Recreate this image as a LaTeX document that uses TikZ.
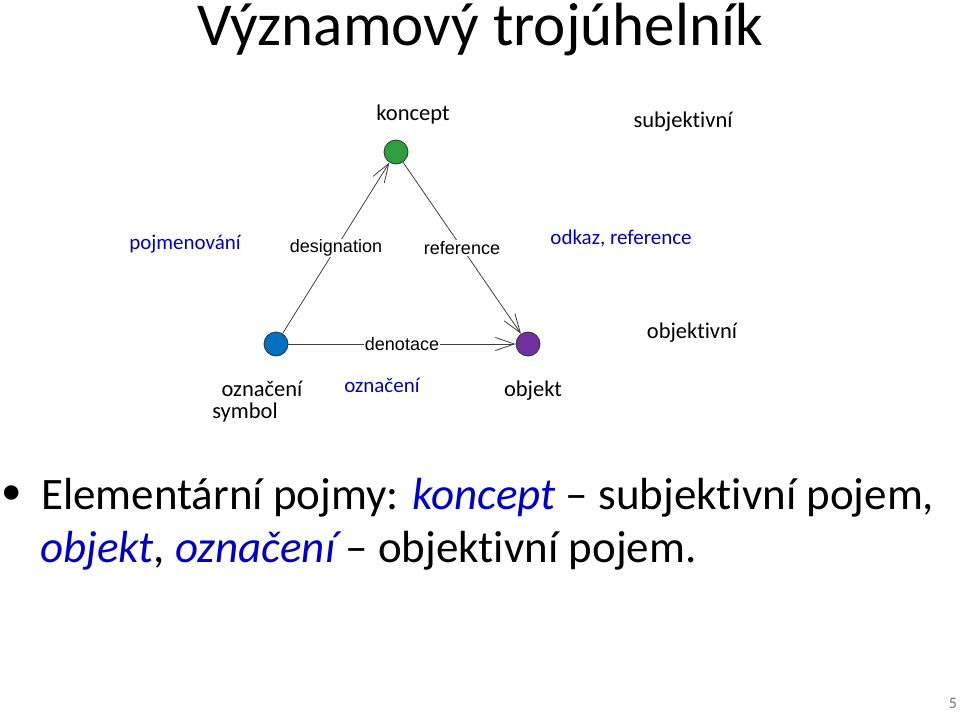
\documentclass[tikz,border=0pt]{standalone}
\usepackage{fontspec}
\setmainfont{Carlito}[Ligatures=NoCommon]
\newfontfamily\arialfont{Liberation Sans}
\usetikzlibrary{arrows.meta}
\definecolor{cgreen}{RGB}{46,158,62}
\definecolor{cblue}{RGB}{0,112,192}
\definecolor{cpurple}{RGB}{112,48,160}
\definecolor{tblue}{RGB}{0,0,204}
\definecolor{lgray}{RGB}{64,64,64}
\tikzset{
  dot/.style={circle,draw=black!80,line width=0.8pt,minimum size=24pt,inner sep=0pt},
  lbl/.style={inner sep=0pt,font=\fontsize{22.5}{27}\selectfont},
  bl/.style={inner sep=0pt,text=tblue,font=\fontsize{21}{25}\selectfont},
  al/.style={inner sep=1pt,fill=white,font=\arialfont\fontsize{18}{21}\selectfont},
  conn/.style={draw=lgray,line width=0.8pt,-{Straight Barb[length=19pt,width=13pt,line width=0.8pt]}},
  big/.style={inner sep=0pt,font=\fontsize{45}{54}\selectfont},
}
\begin{document}
\begin{tikzpicture}[x=1pt,y=-1pt]
\useasboundingbox (0,0) rectangle (960,712);
\fill[white] (0,0) rectangle (960,712);
% title
\node[inner sep=0pt,anchor=base,font=\fontsize{61}{72}\selectfont] (title) at (480,45) {Významový trojúhelník};
% circles
\node[dot,fill=cgreen] (g) at (396,152) {};
\node[dot,fill=cblue] (b) at (276,344) {};
\node[dot,fill=cpurple] (p) at (528,344) {};
% connectors
\draw[conn] (b) -- node[al] (des) {designation} (g);
\draw[conn] (g) -- node[al] (ref) {reference} (p);
\draw[conn] (b) -- node[al] (den) {denotace} (p);
% labels
\node[lbl] (koncept) at (413,114) {koncept};
\node[lbl] (subj) at (683,122) {subjektivní};
\node[bl] (pojm) at (185,244) {pojmenování};
\node[bl] (odkaz) at (621,239) {odkaz, reference};
\node[lbl] (obj) at (692,333) {objektivní};
\node[lbl] (ozn) at (262,389) {označení};
\node[lbl] (sym) at (245,412) {symbol};
\node[bl] (ozn2) at (382,385) {označení};
\node[lbl] (objekt) at (533,391) {objekt};
% bullet text
\node[inner sep=0pt,font=\fontsize{41}{50}\selectfont] (bul) at (12,495) {•};
\node[big,anchor=base west] (l1) at (41,509) {Elementární pojmy: \textcolor{tblue}{\itshape koncept} – subjektivní pojem,};
\node[big,anchor=base west] (l2) at (40,562) {\textcolor{tblue}{\itshape objekt}, \textcolor{tblue}{\itshape označení} – objektivní pojem.};
% page number
\node[inner sep=0pt,text=black!55,font=\fontsize{16}{19}\selectfont] (num) at (953,703) {5};
\end{tikzpicture}
\end{document}
